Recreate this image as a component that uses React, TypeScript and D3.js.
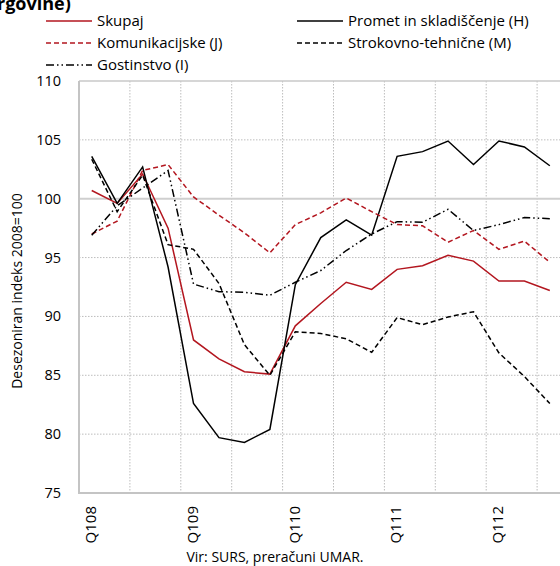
import React from "react";
import * as d3 from "d3";

const categories: string[] = [
  "Q108","Q208","Q308","Q408",
  "Q109","Q209","Q309","Q409",
  "Q110","Q210","Q310","Q410",
  "Q111","Q211","Q311","Q411",
  "Q112","Q212","Q312",
];
const tickLabels: string[] = ["Q108", "Q109", "Q110", "Q111", "Q112"];
const yTicks: number[] = [75, 80, 85, 90, 95, 100, 105, 110];

const skupaj: number[] = [100.7, 99.6, 102.1, 97.5, 88.0, 86.4, 85.3, 85.1, 89.2, 91.1, 92.9, 92.3, 94.0, 94.3, 95.2, 94.7, 93.0, 93.0, 92.2];
const promet: number[] = [103.6, 99.6, 102.7, 94.2, 82.6, 79.7, 79.3, 80.4, 92.7, 96.7, 98.2, 96.9, 103.6, 104.0, 104.9, 102.9, 104.9, 104.4, 102.8];
const komunikacijske: number[] = [97.0, 98.1, 102.4, 102.9, 100.15, 98.6, 97.1, 95.4, 97.8, 98.8, 100.06, 98.9, 97.8, 97.7, 96.3, 97.3, 95.7, 96.4, 94.6];
const strokovno: number[] = [103.35, 98.9, 102.0, 96.1, 95.7, 92.8, 87.6, 85.0, 88.7, 88.55, 88.1, 86.95, 89.9, 89.3, 89.95, 90.4, 86.9, 84.9, 82.6];
const gostinstvo: number[] = [96.9, 99.4, 100.9, 102.4, 92.75, 92.1, 92.05, 91.8, 92.9, 93.9, 95.6, 97.0, 98.05, 98.0, 99.1, 97.3, 97.8, 98.4, 98.3];

const RED = "#b3161f";
const FONT = "'Open Sans', 'Noto Sans', sans-serif";

type Series = { name: string; values: number[]; color: string; dash: string };
const series: Series[] = [
  { name: "Skupaj", values: skupaj, color: RED, dash: "" },
  { name: "Promet in skladiščenje (H)", values: promet, color: "#000", dash: "" },
  { name: "Komunikacijske (J)", values: komunikacijske, color: RED, dash: "5,3" },
  { name: "Strokovno-tehnične (M)", values: strokovno, color: "#000", dash: "5,3" },
  { name: "Gostinstvo (I)", values: gostinstvo, color: "#000", dash: "8,3,1.5,3,1.5,3" },
];

export default function App() {
  const left = 79;
  const top = 81;
  const bottom = 493;
  const step = 25.45;
  const x = d3.scaleBand<string>().domain(categories).range([left, left + step * categories.length]).padding(0);
  const y = d3.scaleLinear().domain([75, 110]).range([bottom, top]);
  const right = 560;
  const cx = (c: string) => (x(c) as number) + x.bandwidth() / 2;

  const line = (vals: number[]) =>
    d3.line<number>().x((_, i) => cx(categories[i])).y((v) => y(v))(vals) as string;

  const vGrid = categories.filter((_, i) => i > 0 && i % 2 === 0).map((c) => x(c) as number);

  const legendPos = [
    { lx: 46, ly: 21 },
    { lx: 297, ly: 21 },
    { lx: 46, ly: 43 },
    { lx: 297, ly: 43 },
    { lx: 46, ly: 65 },
  ];

  return (
    <svg width={560} height={566} style={{ position: "absolute", left: 0, top: 0, background: "#fff" }} fontFamily={FONT}>
      <text x={-3} y={10} fontSize={18} fontWeight="bold" fill="#000">rgovine)</text>
      {/* grid */}
      {yTicks.filter((t) => t !== 75 && t !== 100 && t !== 110).map((t) => (
        <line key={"h" + t} x1={left} x2={right} y1={y(t)} y2={y(t)} stroke="#bdbdbd" strokeWidth={1} strokeDasharray="1.5,1.5" />
      ))}
      {vGrid.map((gx, i) => (
        <line key={"v" + i} x1={gx} x2={gx} y1={top} y2={bottom} stroke="#bdbdbd" strokeWidth={1} strokeDasharray="1.5,1.5" />
      ))}
      <line x1={left} x2={right} y1={y(110)} y2={y(110)} stroke="#c8c8c8" strokeWidth={1.5} />
      <line x1={left} x2={right} y1={y(100)} y2={y(100)} stroke="#cfcfcf" strokeWidth={2} />
      <line x1={left} x2={left} y1={top} y2={bottom + 1} stroke="#c4c4c4" strokeWidth={2} />
      <line x1={left} x2={right} y1={bottom} y2={bottom} stroke="#c4c4c4" strokeWidth={2} />
      {/* y tick labels */}
      {yTicks.map((t) => (
        <text key={"yt" + t} x={61} y={y(t) + 5} textAnchor="end" fontSize={14.5} fill="#000">{t}</text>
      ))}
      <text transform={`translate(22,${(top + bottom) / 2 + 4}) rotate(-90)`} textAnchor="middle" fontSize={14} fill="#000">
        Desezoniran indeks 2008=100
      </text>
      {/* x tick labels */}
      {tickLabels.map((c) => (
        <text key={"xt" + c} transform={`translate(${cx(c) - 1},${bottom + 13}) rotate(-90)`} textAnchor="end" dy="0.35em" fontSize={15} fill="#000">{c}</text>
      ))}
      <text x={275} y={562} textAnchor="middle" fontSize={14} fill="#000">Vir: SURS, preračuni UMAR.</text>
      {/* lines */}
      {series.map((s) => (
        <path key={s.name} d={line(s.values)} fill="none" stroke={s.color} strokeWidth={1.5} strokeDasharray={s.dash || undefined} strokeLinejoin="miter" />
      ))}
      {/* legend */}
      {series.map((s, i) => (
        <g key={"lg" + s.name}>
          <line x1={legendPos[i].lx} x2={legendPos[i].lx + 46} y1={legendPos[i].ly} y2={legendPos[i].ly} stroke={s.color} strokeWidth={1.4} strokeDasharray={s.dash || undefined} />
          <text x={legendPos[i].lx + 51} y={legendPos[i].ly + 5} fontSize={15} fill="#000">{s.name}</text>
        </g>
      ))}
    </svg>
  );
}
